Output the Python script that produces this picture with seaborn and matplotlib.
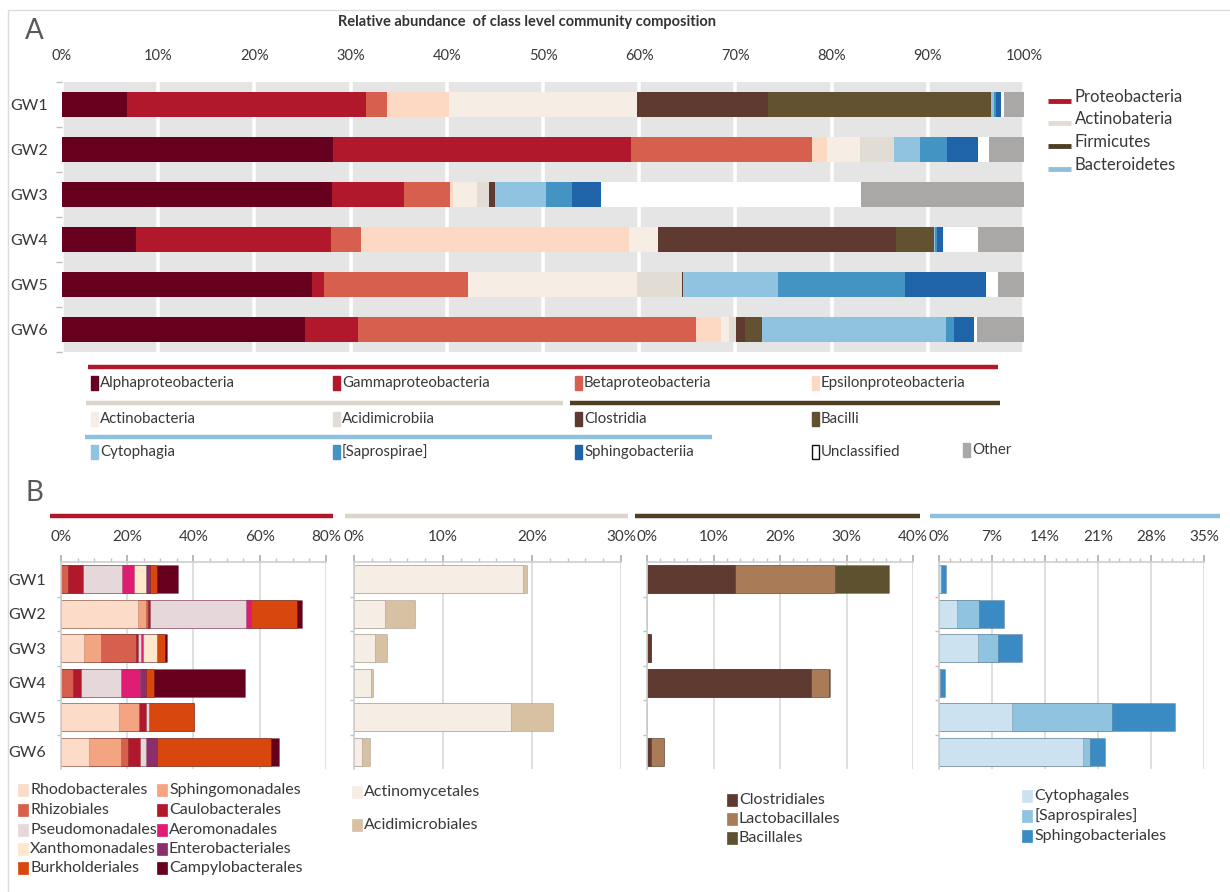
import numpy as np
import pandas as pd
import matplotlib
matplotlib.use("Agg")
import matplotlib.pyplot as plt
from matplotlib.patches import Rectangle
from matplotlib.lines import Line2D
import seaborn as sns

# ---------------- data ----------------
samples = ["GW1", "GW2", "GW3", "GW4", "GW5", "GW6"]

# class level relative abundance (%)
alphaproteobacteria = [6.8, 28.2, 28.1, 7.7, 26.0, 25.3]
gammaproteobacteria = [24.8, 30.9, 7.4, 20.3, 1.2, 5.5]
betaproteobacteria = [2.2, 18.9, 4.8, 3.1, 15.0, 35.1]
epsilonproteobacteria = [6.4, 1.5, 0.3, 27.8, 0.0, 2.6]
actinobacteria = [19.6, 3.5, 2.5, 3.1, 17.6, 0.8]
acidimicrobiia = [0.0, 3.5, 1.3, 0.0, 4.6, 0.8]
clostridia = [13.6, 0.0, 0.6, 24.7, 0.2, 0.9]
bacilli = [23.2, 0.0, 0.0, 3.9, 0.0, 1.8]
cytophagia = [0.3, 2.7, 5.3, 0.2, 9.8, 19.1]
saprospirae = [0.2, 2.8, 2.7, 0.2, 13.2, 0.8]
sphingobacteriia = [0.5, 3.2, 3.0, 0.6, 8.4, 2.1]
unclassified = [0.3, 1.2, 27.1, 3.6, 1.3, 0.3]
other = [2.1, 3.6, 16.9, 4.8, 2.7, 4.9]

# order level relative abundance (%) - Proteobacteria
rhodobacterales = [0.0, 23.3, 6.9, 0.0, 17.5, 8.6]
sphingomonadales = [0.0, 2.5, 5.3, 0.0, 6.1, 9.5]
rhizobiales = [2.2, 0.6, 10.4, 3.5, 0.0, 2.0]
caulobacterales = [4.5, 0.6, 0.7, 2.4, 2.2, 3.6]
pseudomonadales = [11.6, 29.0, 1.0, 12.1, 0.8, 2.0]
aeromonadales = [3.7, 1.5, 0.5, 5.8, 0.0, 0.0]
xanthomonadales = [3.8, 0.0, 4.2, 0.0, 0.0, 0.0]
enterobacteriales = [1.0, 0.0, 0.0, 2.0, 0.0, 3.4]
burkholderiales = [2.2, 13.6, 2.5, 2.2, 13.5, 34.2]
campylobacterales = [6.3, 1.8, 0.5, 27.5, 0.0, 2.6]

# Actinobacteria
actinomycetales = [19.0, 3.5, 2.4, 1.9, 17.6, 0.9]
acidimicrobiales = [0.45, 3.4, 1.3, 0.2, 4.8, 0.9]

# Firmicutes
clostridiales = [13.3, 0.0, 0.65, 24.6, 0.0, 0.6]
lactobacillales = [14.9, 0.0, 0.0, 2.7, 0.0, 1.9]
bacillales = [8.2, 0.0, 0.0, 0.2, 0.0, 0.0]

# Bacteroidetes
cytophagales = [0.2, 2.4, 5.1, 0.1, 9.6, 19.0]
saprospirales = [0.0, 2.9, 2.7, 0.0, 13.3, 0.9]
sphingobacteriales = [0.7, 3.3, 3.1, 0.7, 8.3, 2.0]

ticks_a = [0, 10, 20, 30, 40, 50, 60, 70, 80, 90, 100]
ticks_b = [[0, 20, 40, 60, 80], [0, 10, 20, 30], [0, 10, 20, 30, 40], [0, 7, 14, 21, 28, 35]]

# ---------------- style ----------------
sns.set_theme(style="white")
plt.rcParams["font.family"] = ["Lato", "DejaVu Sans"]
TXT = "#383838"

W, H = 1230, 892
fig = plt.figure(figsize=(W / 100, H / 100), dpi=100)
fig.patch.set_facecolor("white")


def fx(px):
    return px / W


def fy(py):
    return 1 - py / H


def stacked(ax, series, colors, width):
    """Stacked horizontal bars built by overlaying cumulative sums."""
    df = pd.DataFrame({name: vals for name, vals in series}, index=samples)
    cum = df.cumsum(axis=1)
    cols = list(df.columns)
    for i in range(len(cols) - 1, -1, -1):
        sns.barplot(x=cum[cols[i]].values, y=samples, color=colors[i], orient="h",
                    width=width, saturation=1, ax=ax, linewidth=0)
    ax.set_xlabel("")
    ax.set_ylabel("")


# frame lines around the figure
fig.add_artist(Line2D([fx(8), fx(1230)], [fy(10), fy(10)], color="#dcdcdc", lw=1))
fig.add_artist(Line2D([fx(8), fx(8)], [fy(10), fy(892)], color="#dcdcdc", lw=1))

# ---------------- panel A ----------------
c_alpha, c_gamma, c_beta, c_eps = "#67001f", "#b2182b", "#d6604d", "#fdd9c4"
c_actino, c_acidi, c_clos, c_bac = "#f6ede5", "#e2ddd4", "#5e3a31", "#625230"
c_cyto, c_sapro, c_sphingo, c_uncl, c_other = "#8fc3df", "#4393c3", "#1f63a9", "#ffffff", "#aaa7a7"

axA = fig.add_axes([fx(62), fy(352), (1024 - 62) / W, (352 - 82) / H])
axA.set_facecolor("#e5e5e5")
seriesA = [("Alphaproteobacteria", alphaproteobacteria), ("Gammaproteobacteria", gammaproteobacteria),
           ("Betaproteobacteria", betaproteobacteria), ("Epsilonproteobacteria", epsilonproteobacteria),
           ("Actinobacteria", actinobacteria), ("Acidimicrobiia", acidimicrobiia),
           ("Clostridia", clostridia), ("Bacilli", bacilli), ("Cytophagia", cytophagia),
           ("[Saprospirae]", saprospirae), ("Sphingobacteriia", sphingobacteriia),
           ("Unclassified", unclassified), ("Other", other)]
colorsA = [c_alpha, c_gamma, c_beta, c_eps, c_actino, c_acidi, c_clos, c_bac,
           c_cyto, c_sapro, c_sphingo, c_uncl, c_other]
stacked(axA, seriesA, colorsA, 0.57)
axA.set_xlim(0, 100)
axA.set_axisbelow(True)
axA.xaxis.grid(True, color="white", lw=2.6)
axA.yaxis.grid(False)
for s in axA.spines.values():
    s.set_visible(False)
axA.xaxis.tick_top()
axA.set_xticks(ticks_a)
axA.set_xticklabels([f"{t}%" for t in ticks_a])
axA.tick_params(axis="x", length=0, pad=14, labelsize=10.5, labelcolor=TXT)
axA.set_yticks(range(len(samples)))
axA.set_yticklabels(samples)
axA.tick_params(axis="y", length=0, pad=10, labelsize=11.5, labelcolor=TXT)
axA.set_yticks(np.arange(-0.5, len(samples), 1), minor=True)
axA.tick_params(axis="y", which="minor", length=4, color="#bdbdbd", width=1, left=True)

fig.text(fx(25), fy(31), "A", fontsize=20, color="#595959", va="center", ha="left")
fig.text(fx(527), fy(22), "Relative abundance  of class level community composition",
         fontsize=10.5, color="#333333", ha="center", va="center", fontweight="bold")

# phylum legend at the right
phyla = [("Proteobacteria", "#b2182b", 97), ("Actinobateria", "#e2ddd4", 119),
         ("Firmicutes", "#4f3e22", 142), ("Bacteroidetes", "#8cc0de", 165)]
for label, col, yy in phyla:
    fig.add_artist(Line2D([fx(1048), fx(1071)], [fy(yy + 4), fy(yy + 4)], color=col, lw=3.5,
                          solid_capstyle="butt"))
    fig.text(fx(1075), fy(yy), label, fontsize=12, color=TXT, va="center", ha="left")

# class legend below panel A, grouped by phylum
group_lines = [(88, 998, 367, "#b2182b"), (86, 563, 403, "#dcd6ca"),
               (570, 1000, 403, "#4f3e22"), (85, 712, 437, "#8cc0de")]
for x0, x1, yy, col in group_lines:
    fig.add_artist(Line2D([fx(x0), fx(x1)], [fy(yy), fy(yy)], color=col, lw=3.2,
                          solid_capstyle="butt"))

legA = [("Alphaproteobacteria", c_alpha, 91, 383), ("Gammaproteobacteria", c_gamma, 333, 383),
        ("Betaproteobacteria", c_beta, 575, 383), ("Epsilonproteobacteria", c_eps, 812, 383),
        ("Actinobacteria", c_actino, 91, 419), ("Acidimicrobiia", c_acidi, 333, 419),
        ("Clostridia", c_clos, 575, 419), ("Bacilli", c_bac, 812, 419),
        ("Cytophagia", c_cyto, 91, 452), ("[Saprospirae]", c_sapro, 333, 452),
        ("Sphingobacteriia", c_sphingo, 575, 452), ("Unclassified", c_uncl, 812, 452),
        ("Other", c_other, 963, 450)]
for label, col, xx, yy in legA:
    ec = "#111111" if label == "Unclassified" else col
    fig.add_artist(Rectangle((fx(xx), fy(yy + 7)), 7 / W, 14 / H, facecolor=col,
                             edgecolor=ec, lw=1.0, transform=fig.transFigure))
    fig.text(fx(xx + 9), fy(yy), label, fontsize=10.8, color=TXT, va="center", ha="left")

# ---------------- panel B ----------------
fig.text(fx(25), fy(493), "B", fontsize=20, color="#595959", va="center", ha="left")

proteo_series = [("Rhodobacterales", rhodobacterales), ("Sphingomonadales", sphingomonadales),
                 ("Rhizobiales", rhizobiales), ("Caulobacterales", caulobacterales),
                 ("Pseudomonadales", pseudomonadales), ("Aeromonadales", aeromonadales),
                 ("Xanthomonadales", xanthomonadales), ("Enterobacteriales", enterobacteriales),
                 ("Burkholderiales", burkholderiales), ("Campylobacterales", campylobacterales)]
proteo_colors = ["#fcdcc8", "#f3a480", "#d6604d", "#b2182b", "#e6d8da",
                 "#df1c74", "#fde8cc", "#8c2d6e", "#d8470e", "#67001f"]
actino_series = [("Actinomycetales", actinomycetales), ("Acidimicrobiales", acidimicrobiales)]
actino_colors = ["#f6ede5", "#d8c0a2"]
firm_series = [("Clostridiales", clostridiales), ("Lactobacillales", lactobacillales),
               ("Bacillales", bacillales)]
firm_colors = ["#5e3a31", "#a97b57", "#5e5130"]
bact_series = [("Cytophagales", cytophagales), ("[Saprospirales]", saprospirales),
               ("Sphingobacteriales", sphingobacteriales)]
bact_colors = ["#cde2f0", "#8fc3df", "#3a8bc4"]

panels = [
    (61, 326, proteo_series, proteo_colors, ticks_b[0], 5, "#b2182b", 50, 333),
    (354, 621, actino_series, actino_colors, ticks_b[1], 2, "#dcd6ca", 345, 628),
    (647, 913, firm_series, firm_colors, ticks_b[2], 2, "#4f3e22", 635, 920),
    (939, 1204, bact_series, bact_colors, ticks_b[3], 1.4, "#8cc0de", 930, 1220),
]
top_b, bot_b = 562, 769
for k, (x0, x1, series, colors, ticks, minor, gcol, g0, g1) in enumerate(panels):
    ax = fig.add_axes([fx(x0), fy(bot_b), (x1 - x0) / W, (bot_b - top_b) / H])
    stacked(ax, series, colors, 0.81)
    for p in ax.patches:
        p.set_edgecolor((0, 0, 0, 0.18))
        p.set_linewidth(0.6)
    ax.set_xlim(0, ticks[-1])
    ax.set_axisbelow(True)
    ax.xaxis.grid(True, color="#d9d9d9", lw=1.2)
    ax.yaxis.grid(False)
    for side in ["right", "bottom"]:
        ax.spines[side].set_visible(False)
    ax.spines["top"].set_color("#d0d0d0")
    ax.spines["left"].set_color("#d0d0d0")
    ax.xaxis.tick_top()
    ax.set_xticks(ticks)
    ax.set_xticklabels([f"{t}%" for t in ticks])
    ax.set_xticks(np.arange(0, ticks[-1] + 1e-6, minor), minor=True)
    ax.tick_params(axis="x", which="major", length=5, color="#b0b0b0", pad=8,
                   labelsize=11, labelcolor=TXT)
    ax.tick_params(axis="x", which="minor", length=3, color="#c0c0c0", top=True)
    ax.set_yticks(range(len(samples)))
    if k == 0:
        ax.set_yticklabels(samples)
        ax.tick_params(axis="y", length=0, pad=11, labelsize=11.5, labelcolor=TXT)
    else:
        ax.set_yticklabels([])
        ax.tick_params(axis="y", length=0)
    ax.set_yticks(np.arange(0.5, len(samples) - 0.5, 1), minor=True)
    ax.tick_params(axis="y", which="minor", length=3, color="#c0c0c0", left=True)
    fig.add_artist(Line2D([fx(g0), fx(g1)], [fy(516), fy(516)], color=gcol, lw=3.2,
                          solid_capstyle="butt"))

# panel B legends
legB = [
    (18, [("Rhodobacterales", proteo_colors[0], 790), ("Rhizobiales", proteo_colors[2], 810),
          ("Pseudomonadales", proteo_colors[4], 830), ("Xanthomonadales", proteo_colors[6], 849),
          ("Burkholderiales", proteo_colors[8], 868)]),
    (157, [("Sphingomonadales", proteo_colors[1], 790), ("Caulobacterales", proteo_colors[3], 810),
           ("Aeromonadales", proteo_colors[5], 830), ("Enterobacteriales", proteo_colors[7], 849),
           ("Campylobacterales", proteo_colors[9], 868)]),
    (352, [("Actinomycetales", actino_colors[0], 792), ("Acidimicrobiales", actino_colors[1], 825)]),
    (727, [("Clostridiales", firm_colors[0], 800), ("Lactobacillales", firm_colors[1], 819),
           ("Bacillales", firm_colors[2], 838)]),
    (1022, [("Cytophagales", bact_colors[0], 796), ("[Saprospirales]", bact_colors[1], 816),
            ("Sphingobacteriales", bact_colors[2], 836)]),
]
for xx, items in legB:
    for label, col, yy in items:
        fig.add_artist(Rectangle((fx(xx), fy(yy + 6)), 10 / W, 12 / H, facecolor=col,
                                 edgecolor=col, lw=0.5, transform=fig.transFigure))
        fig.text(fx(xx + 12), fy(yy), label, fontsize=11.5, color=TXT, va="center", ha="left")

fig.savefig("out.png", dpi=100, facecolor="white")
